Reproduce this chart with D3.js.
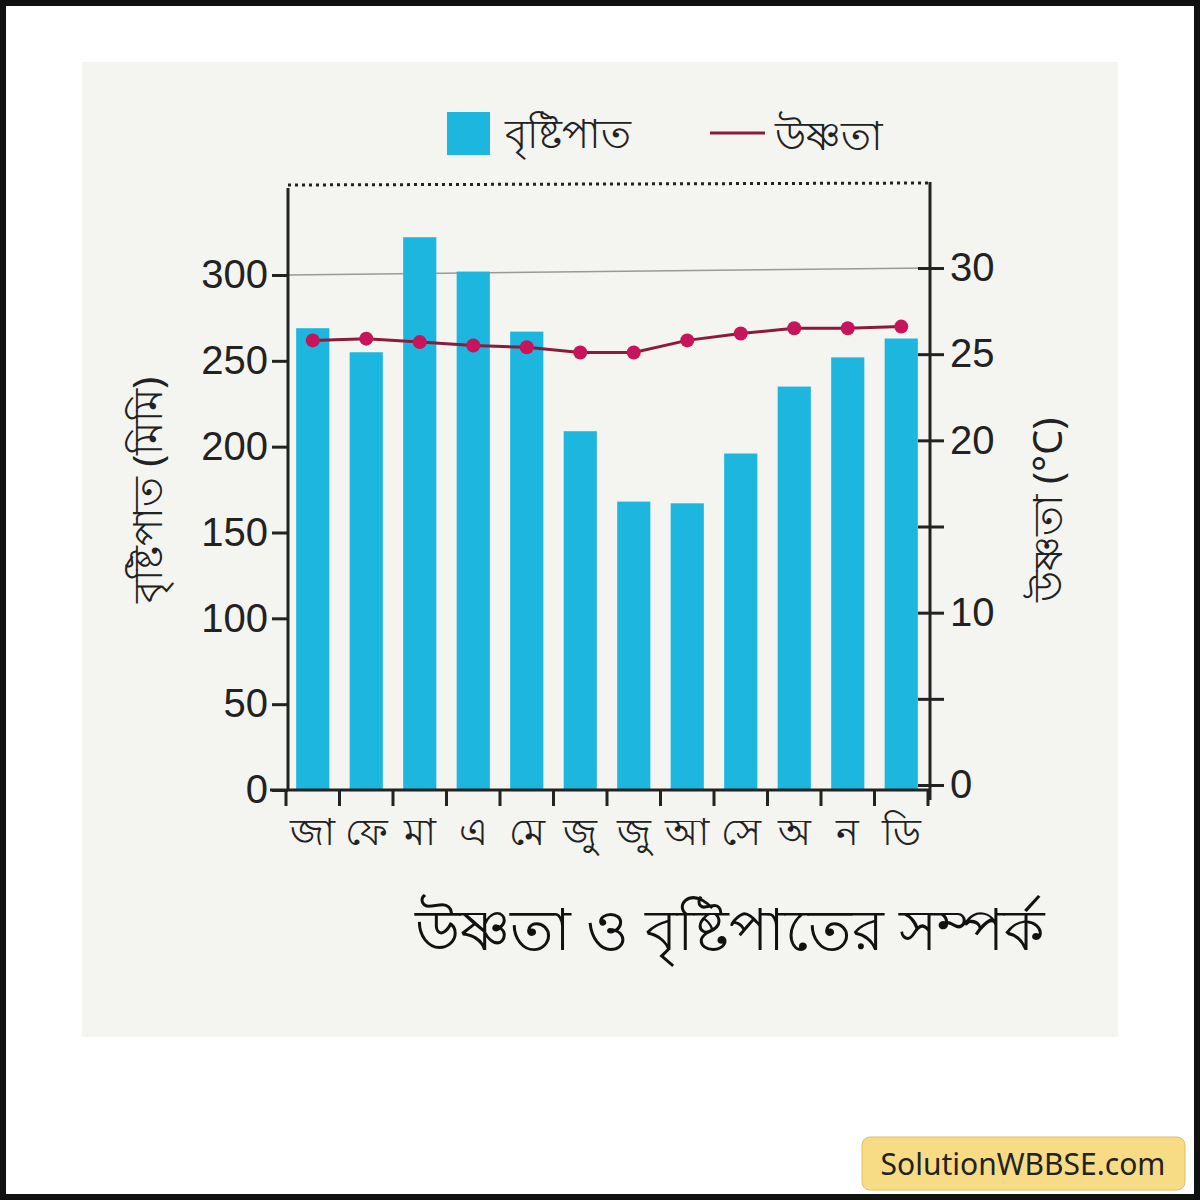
<!DOCTYPE html>
<html lang="bn">
<head>
<meta charset="UTF-8">
<title>উষ্ণতা ও বৃষ্টিপাতের সম্পর্ক</title>
<script src="https://d3js.org/d3.v7.min.js"></script>
<style>
  body { margin: 0; background: #fff; }
  svg { font-family: "Noto Sans", "Liberation Sans", sans-serif; }
  .axis path, .axis line { stroke: #222; stroke-width: 3; }
  .axis text { font-size: 40px; fill: #222; }
</style>
</head>
<body>
<svg id="chart" width="1200" height="1200"></svg>
<script>
// Data
const months = ["জা", "ফে", "মা", "এ", "মে", "জু", "জু ", "আ", "সে", "অ", "ন", "ডি"];
const rainfall = [269, 255, 322, 302, 267, 209, 168, 167, 196, 235, 252, 263];
const temperature = [25.8, 25.9, 25.7, 25.5, 25.4, 25.1, 25.1, 25.8, 26.2, 26.5, 26.5, 26.6];
const rainTicks = [0, 50, 100, 150, 200, 250, 300];
const tempTicks = [0, 5, 10, 15, 20, 25, 30];
const tempLabels = [0, 10, 20, 25, 30];

const svg = d3.select('#chart');

// frame and paper
svg.append('rect').attr('x', 3).attr('y', 3).attr('width', 1194).attr('height', 1194)
  .attr('fill', '#fff').attr('stroke', '#111').attr('stroke-width', 6);
svg.append('rect').attr('x', 82).attr('y', 62).attr('width', 1036).attr('height', 975)
  .attr('fill', '#f4f4f1');

const left = 288, right = 930, bottom = 790;

const x = d3.scaleBand().domain(months).range([286, 928]).paddingInner(0.38).paddingOuter(0.19);
const yRain = d3.scaleLinear().domain([0, 300]).range([bottom, 275]);
const yTemp = d3.scaleLinear().domain([0, 30]).range([785, 268]);

// gridline at 300 and dotted top line
svg.append('line').attr('x1', left).attr('x2', right)
  .attr('y1', yRain(300)).attr('y2', yTemp(30)).attr('stroke', '#999').attr('stroke-width', 1.5);
svg.append('line').attr('x1', left).attr('x2', right).attr('y1', 185).attr('y2', 183)
  .attr('stroke', '#222').attr('stroke-width', 3).attr('stroke-dasharray', '3,4');

// bars
svg.selectAll('.bar').data(rainfall).enter().append('rect')
  .attr('x', (d, i) => x(months[i]))
  .attr('y', d => yRain(d))
  .attr('width', x.bandwidth())
  .attr('height', d => bottom - yRain(d))
  .attr('fill', '#1db6df');

// left axis
const gl = svg.append('g').attr('class', 'axis').attr('transform', `translate(${left},0)`)
  .call(d3.axisLeft(yRain).tickValues(rainTicks).tickSize(16).tickPadding(4));
gl.select('.domain').attr('d', `M0,188V${bottom}`);

// right axis
const gr = svg.append('g').attr('class', 'axis').attr('transform', `translate(${right},0)`)
  .call(d3.axisRight(yTemp).tickValues(tempTicks).tickSize(14).tickPadding(6)
    .tickFormat(d => tempLabels.includes(d) ? d : ''));
gr.select('.domain').attr('d', `M0,182V${bottom + 10}`);
gr.selectAll('.tick line').attr('x1', -12);

// bottom axis
const gb = svg.append('g').attr('class', 'axis').attr('transform', `translate(0,${bottom})`)
  .call(d3.axisBottom(x).tickSize(0).tickPadding(28));
gb.select('.domain').attr('d', `M270,0H${right}`);
gb.selectAll('text').style('font-size', '38px');
const step = x.step();
svg.append('g').selectAll('line').data(d3.range(13)).enter().append('line')
  .attr('x1', i => 286 + i * step).attr('x2', i => 286 + i * step)
  .attr('y1', bottom).attr('y2', bottom + 16)
  .attr('stroke', '#222').attr('stroke-width', 3);

// temperature line
const cx = (d, i) => x(months[i]) + x.bandwidth() / 2;
svg.append('path').datum(temperature)
  .attr('d', d3.line().x(cx).y(d => yTemp(d)))
  .attr('fill', 'none').attr('stroke', '#8b1a3c').attr('stroke-width', 3);
svg.selectAll('.pt').data(temperature).enter().append('circle')
  .attr('cx', cx).attr('cy', d => yTemp(d)).attr('r', 7).attr('fill', '#c8145a');

// legend
svg.append('rect').attr('x', 447).attr('y', 112).attr('width', 43).attr('height', 43).attr('fill', '#1db6df');
svg.append('text').attr('x', 505).attr('y', 148).style('font-size', '40px').attr('fill', '#222').text('বৃষ্টিপাত');
svg.append('line').attr('x1', 710).attr('x2', 765).attr('y1', 133).attr('y2', 133)
  .attr('stroke', '#8b1a3c').attr('stroke-width', 3);
svg.append('text').attr('x', 775).attr('y', 150).style('font-size', '40px').attr('fill', '#222').text('উষ্ণতা');

// axis titles
svg.append('text').attr('transform', 'translate(162,490) rotate(-90)').attr('text-anchor', 'middle')
  .style('font-size', '40px').attr('fill', '#222').text('বৃষ্টিপাত (মিমি)');
svg.append('text').attr('transform', 'translate(1062,510) rotate(-90)').attr('text-anchor', 'middle')
  .style('font-size', '40px').attr('fill', '#222').text('উষ্ণতা (°C)');

// title
svg.append('text').attr('x', 730).attr('y', 950).attr('text-anchor', 'middle')
  .style('font-size', '58px').attr('fill', '#111').text('উষ্ণতা ও বৃষ্টিপাতের সম্পর্ক');

// watermark
svg.append('rect').attr('x', 862).attr('y', 1137).attr('width', 323).attr('height', 53).attr('rx', 8)
  .attr('fill', '#f8dc85').attr('stroke', '#e0c060');
svg.append('text').attr('x', 1023).attr('y', 1175).attr('text-anchor', 'middle')
  .style('font-size', '30px').attr('fill', '#222').text('SolutionWBBSE.com');
</script>
</body>
</html>
